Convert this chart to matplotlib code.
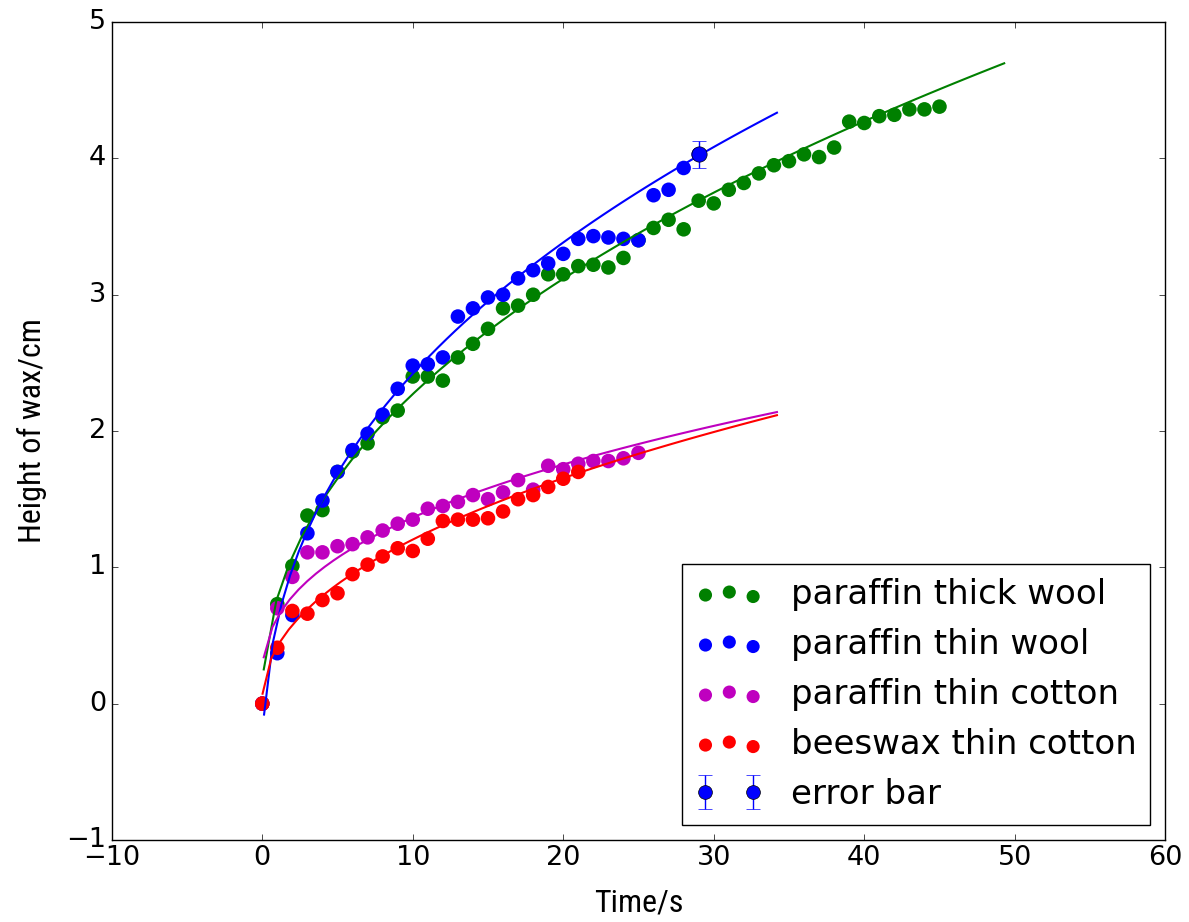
import numpy as np
import matplotlib
matplotlib.use("Agg")
import matplotlib.pyplot as plt

plt.style.use("classic")

# height of wax (cm) read every second
thick_wool = [0, 0.73, 1.01, 1.38, 1.42, 1.70, 1.85, 1.91, 2.10, 2.15,
              2.40, 2.40, 2.37, 2.54, 2.64, 2.75, 2.90, 2.92, 3.00, 3.15,
              3.15, 3.21, 3.22, 3.20, 3.27, 3.40, 3.49, 3.55, 3.48, 3.69,
              3.67, 3.77, 3.82, 3.89, 3.95, 3.98, 4.03, 4.01, 4.08, 4.27,
              4.26, 4.31, 4.32, 4.36, 4.36, 4.38]
thin_wool = [0, 0.37, 0.65, 1.25, 1.49, 1.70, 1.86, 1.98, 2.12, 2.31,
             2.48, 2.49, 2.54, 2.84, 2.90, 2.98, 3.00, 3.12, 3.18, 3.23,
             3.30, 3.41, 3.43, 3.42, 3.41, 3.40, 3.73, 3.77, 3.93, 4.03]
thin_cotton = [0, 0.70, 0.93, 1.11, 1.11, 1.155, 1.17, 1.22, 1.27, 1.32,
               1.35, 1.43, 1.45, 1.48, 1.53, 1.50, 1.55, 1.64, 1.57, 1.745,
               1.72, 1.76, 1.78, 1.78, 1.80, 1.84]
beeswax = [0, 0.41, 0.68, 0.66, 0.76, 0.81, 0.95, 1.02, 1.08, 1.14,
           1.12, 1.21, 1.34, 1.35, 1.35, 1.36, 1.41, 1.50, 1.53, 1.59,
           1.65, 1.70]

err_x = 29
err_y = 4.03
err_size = 0.1

labels = ["paraffin thick wool", "paraffin thin wool",
          "paraffin thin cotton", "beeswax thin cotton"]
colours = ["g", "b", "m", "r"]

# fitted curves h = a*t^b + c
fit_a = [0.82, 1.20, 0.485, 0.416]
fit_b = [0.45, 0.40, 0.40, 0.46]
fit_c = [-0.04, -0.594, 0.147, 0.004]
fit_start = [0.1, 0.12, 0.1, 0.02]
fit_end = [49.3, 34.2, 34.2, 34.2]

fig = plt.figure(figsize=(11.89, 9.22), dpi=100)
ax = fig.add_axes([0.094, 0.089, 0.886, 0.887])

for a, b, c, t0, t1, col in zip(fit_a, fit_b, fit_c, fit_start, fit_end, colours):
    tt = np.linspace(t0, t1, 60)
    ax.plot(tt, a * tt ** b + c, color=col, lw=1.5)

series = [thick_wool, thin_wool, thin_cotton, beeswax]
for h, lab, col in zip(series, labels, colours):
    t = np.arange(len(h))
    ax.scatter(t, h, s=110, color=col, edgecolors="none", label=lab)

ax.errorbar([err_x], [err_y], yerr=[err_size], fmt="o", color="b",
            ms=11, mec="k", capsize=5, label="error bar")

ax.set_xlim(-10, 60)
ax.set_ylim(-1, 5)
ax.tick_params(labelsize=19.5)
lab_font = ["Roboto Condensed", "Liberation Sans Narrow", "Liberation Sans"]
ax.set_xlabel("Time/s", fontsize=23, family=lab_font, labelpad=12)
ax.set_ylabel("Height of wax/cm", fontsize=23, family=lab_font, labelpad=14)

ax.legend(loc="lower right", fontsize=24.5, labelspacing=0.5,
          borderaxespad=0.45, markerscale=0.9)

fig.savefig("out.png", dpi=100)
